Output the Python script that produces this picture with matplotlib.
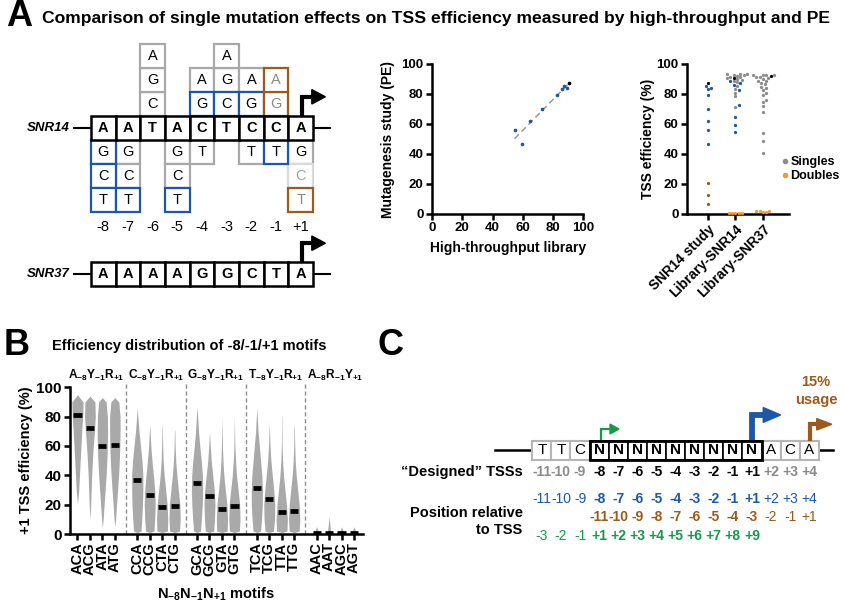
import numpy as np
import matplotlib
matplotlib.use('Agg')
import matplotlib.pyplot as plt
from matplotlib.patches import Rectangle, Polygon
from matplotlib.lines import Line2D

plt.rcParams['font.family'] = ['Liberation Sans', 'DejaVu Sans']
plt.rcParams['font.weight'] = 'bold'
plt.rcParams['axes.labelweight'] = 'bold'
plt.rcParams['mathtext.fontset'] = 'custom'
plt.rcParams['mathtext.rm'] = 'Liberation Sans:bold'
plt.rcParams['mathtext.bf'] = 'Liberation Sans:bold'
plt.rcParams['mathtext.it'] = 'Liberation Sans:bold:italic'

BLUE = '#1d57a8'
BROWN = '#9c5a1c'
ORANGE = '#f39a2b'
GREEN = '#17994a'
GRAY_BOX = '#a8a8a8'
GRAY_TXT = '#8a8a8a'
GRAY_PTS = '#8c8c8c'
VIOLIN = '#a9a9a9'

# ---------------- data: panel A diagram ----------------
snr14_seq = list('AATACTCCA')
snr37_seq = list('AAAAGGCTA')
positions = ['-8', '-7', '-6', '-5', '-4', '-3', '-2', '-1', '+1']
mut_col = [0, 0, 0, 1, 1, 1, 2, 2, 2, 3, 3, 3, 4, 4, 4, 5, 5, 5, 6, 6, 6, 7, 7, 7, 8, 8, 8]
mut_row = [-1, -2, -3, -1, -2, -3, 1, 2, 3, -1, -2, -3, 1, 2, -1, 1, 2, 3, 1, 2, -1, 1, 2, -1, -1, -2, -3]
mut_base = list('GCTGCTCGAGCTGATCGAGATGATGCT')
mut_kind = ['b', 'b', 'b', 'g', 'g', 'b', 'g', 'g', 'g', 'g', 'g', 'b', 'b', 'g', 'g',
            'b', 'g', 'g', 'b', 'g', 'g', 'o', 'o', 'b', 'g', 'l', 'o']

# ---------------- data: panel A scatter / swarm ----------------
lib14_tested = [54.5, 59.5, 64.8, 72.6, 82.8, 86.0, 87.2, 88.8]
pe_tested = [56.0, 46.7, 62.0, 70.0, 79.3, 83.3, 85.3, 84.0]
lib14_wt = 90.7
pe_wt = 87.3
pe_doubles = [21.0, 13.0, 7.0]
lib14_singles = [93.6, 93.4, 93.2, 93.0, 92.4, 92.2, 91.6, 91.2, 90.4, 90.0, 89.2,
                 88.5, 87.8, 85.5, 83.5, 81.0, 78.5, 71.5]
lib14_doubles = [0.6, 0.7, 0.8, 0.9, 1.0]
lib37_singles = [93.0, 92.8, 92.6, 92.4, 91.5, 91.2, 90.5, 90.2, 89.0, 88.5, 87.3, 86.5,
                 85.0, 84.0, 83.0, 81.0, 79.5, 76.0, 74.5, 72.0, 68.0, 54.0, 49.0, 41.0]
lib37_wt = 91.8
lib37_doubles = [1.5, 1.6, 1.7, 1.8, 1.9]
swarm_cats = ['SNR14 study', 'Library-SNR14', 'Library-SNR37']

# ---------------- data: panel B ----------------
motifs = ['ACA', 'ACG', 'ATA', 'ATG', 'CCA', 'CCG', 'CTA', 'CTG', 'GCA', 'GCG',
          'GTA', 'GTG', 'TCA', 'TCG', 'TTA', 'TTG', 'AAC', 'AAT', 'AGC', 'AGT']
group_titles = [r'$\mathrm{A_{-8}Y_{-1}R_{+1}}$', r'$\mathrm{C_{-8}Y_{-1}R_{+1}}$',
                r'$\mathrm{G_{-8}Y_{-1}R_{+1}}$', r'$\mathrm{T_{-8}Y_{-1}R_{+1}}$',
                r'$\mathrm{A_{-8}R_{-1}Y_{+1}}$']
medians = [81, 72, 60, 60.5, 37, 26.5, 18.5, 19, 35, 26, 17, 19, 31.5, 24, 15, 16, 0.8, 0.8, 0.8, 0.8]
lows = [20, 10, 4, 5, 1, 1, 1, 1, 1, 1, 1, 1, 1, 1, 1, 1, 0, 0, 0, 0]
highs = [95, 94, 93, 93, 86, 74, 76, 71, 87, 70, 79, 80, 86, 77, 82, 76, 5, 12, 5, 5]
levels = [2, 10, 20, 30, 40, 50, 60, 70, 80, 90]
half_widths = [
    [0, 0, 0, .10, .16, .22, .28, .34, .42, .45],
    [0, 0, .06, .10, .14, .20, .27, .36, .43, .40],
    [0, .06, .14, .22, .30, .36, .40, .42, .40, .30],
    [0, .06, .14, .22, .30, .36, .40, .42, .42, .32],
    [.30, .36, .42, .45, .45, .38, .26, .14, .05, 0],
    [.34, .40, .44, .40, .30, .18, .09, .03, 0, 0],
    [.42, .45, .40, .28, .16, .08, .04, .02, 0, 0],
    [.40, .45, .42, .30, .18, .09, .04, .02, 0, 0],
    [.28, .35, .42, .45, .43, .34, .22, .12, .05, 0],
    [.34, .40, .44, .38, .26, .14, .06, 0, 0, 0],
    [.42, .45, .40, .27, .15, .08, .04, .02, 0, 0],
    [.40, .45, .42, .30, .17, .09, .04, .02, 0, 0],
    [.30, .38, .44, .45, .40, .30, .20, .10, .04, 0],
    [.34, .42, .44, .36, .24, .13, .06, .02, 0, 0],
    [.42, .45, .38, .26, .14, .07, .03, .02, .01, 0],
    [.40, .45, .40, .28, .16, .08, .04, .02, 0, 0],
    [.12, 0, 0, 0, 0, 0, 0, 0, 0, 0],
    [.12, .02, 0, 0, 0, 0, 0, 0, 0, 0],
    [.12, 0, 0, 0, 0, 0, 0, 0, 0, 0],
    [.12, 0, 0, 0, 0, 0, 0, 0, 0, 0],
]

# ---------------- data: panel C ----------------
c_letters = ['T', 'T', 'C'] + ['N'] * 9 + ['A', 'C', 'A']
c_designed = ['-11', '-10', '-9', '-8', '-7', '-6', '-5', '-4', '-3', '-2', '-1', '+1', '+2', '+3', '+4']
c_brown = ['-11', '-10', '-9', '-8', '-7', '-6', '-5', '-4', '-3', '-2', '-1', '+1']
c_green = ['-3', '-2', '-1', '+1', '+2', '+3', '+4', '+5', '+6', '+7', '+8', '+9']

W, H = 845, 607
fig = plt.figure(figsize=(W / 100, H / 100), dpi=100)


def px_axes(x0, y0, x1, y1):
    return fig.add_axes([x0 / W, 1 - y1 / H, (x1 - x0) / W, (y1 - y0) / H])


def style(ax, size):
    for s in ['top', 'right']:
        ax.spines[s].set_visible(False)
    for s in ['left', 'bottom']:
        ax.spines[s].set_linewidth(1.8)
    ax.tick_params(width=1.8, length=4.5, labelsize=size, pad=1.5)


def swarm_offsets(values, d_px=3.3, ypx=1.5, xpx=27.5):
    vals = np.asarray(values, float)
    step = d_px * 0.5
    cands = [0.0]
    for k in range(1, 40):
        cands += [k * step, -k * step]
    placed = []
    offs = np.zeros(len(vals))
    for idx in np.argsort(vals):
        y = vals[idx] * ypx
        for c in cands:
            if all((c - px) ** 2 + (y - py) ** 2 >= d_px ** 2 for px, py in placed):
                break
        placed.append((c, y))
        offs[idx] = c / xpx
    return offs


# ---------------- figure labels ----------------
fig.text(19 / W, 1 - 17 / H, 'A', fontsize=26, ha='center', va='center')
fig.text(42 / W, 1 - 18 / H,
         'Comparison of single mutation effects on TSS efficiency measured by high-throughput and PE',
         fontsize=12.6, ha='left', va='center')
fig.text(17 / W, 1 - 345 / H, 'B', fontsize=26, ha='center', va='center')
fig.text(52 / W, 1 - 346 / H, 'Efficiency distribution of -8/-1/+1 motifs', fontsize=10.5,
         ha='left', va='center')
fig.text(391 / W, 1 - 345 / H, 'C', fontsize=26, ha='center', va='center')

# ---------------- panel A: sequence diagram ----------------
ax1 = px_axes(0, 35, 340, 300)
ax1.set_xlim(-3.689, 10.093)
ax1.set_ylim(-6.667, 4.375)
ax1.axis('off')
kind_style = {'g': (GRAY_BOX, 'black', 2), 'l': ('#d9d9d9', '#a0a0a0', 2),
              'b': (BLUE, 'black', 3), 'o': (BROWN, GRAY_TXT, 3)}
for c, r, b, k in zip(mut_col, mut_row, mut_base, mut_kind):
    ec, tc, z = kind_style[k]
    ax1.add_patch(Rectangle((c, r), 1, 1, fc='white', ec=ec, lw=1.6, zorder=z))
    ax1.text(c + 0.5, r + 0.5, b, ha='center', va='center', fontsize=10.5,
             fontweight='normal', color=tc, zorder=z + 0.5)
for base_y, seq, name, top in [(0, snr14_seq, 'SNR14', 1.8), (-6.1, snr37_seq, 'SNR37', -4.3)]:
    for i, b in enumerate(seq):
        ax1.add_patch(Rectangle((i, base_y), 1, 1, fc='white', ec='black', lw=1.8, zorder=5))
        ax1.text(i + 0.5, base_y + 0.5, b, ha='center', va='center', fontsize=10.5, zorder=6)
    ax1.plot([-0.7, 0], [base_y + 0.5] * 2, color='black', lw=1.5)
    ax1.plot([9, 9.7], [base_y + 0.5] * 2, color='black', lw=1.5)
    ax1.text(-0.85, base_y + 0.5, name, ha='right', va='center', fontsize=9.5, style='italic')
    ax1.plot([8.54, 8.54, 9.0], [base_y + 1, top, top], color='black', lw=3,
             solid_joinstyle='miter', solid_capstyle='butt', zorder=6)
    ax1.add_patch(Polygon([[8.95, top + 0.3], [8.95, top - 0.3], [9.5, top]], color='black', zorder=6))
for i, p in enumerate(positions):
    ax1.text(i + 0.5, -3.63, p, ha='center', va='center', fontsize=10.5, fontweight='normal')

# ---------------- panel A: scatter ----------------
ax2 = px_axes(432, 64, 583.5, 214)
style(ax2, 9.5)
ax2.set_xlim(0, 100)
ax2.set_ylim(0, 100)
ax2.set_xticks(range(0, 101, 20))
ax2.set_yticks(range(0, 101, 20))
xs = np.array(lib14_tested + [lib14_wt])
ys = np.array(pe_tested + [pe_wt])
fit = np.polyfit(xs, ys, 1)
fx = np.array([xs.min(), xs.max()])
ax2.plot(fx, np.polyval(fit, fx), color='#999999', lw=1.1, ls=(0, (4, 2.5)))
ax2.scatter(lib14_tested, pe_tested, s=7, color=BLUE, zorder=3, lw=0)
ax2.scatter([lib14_wt], [pe_wt], s=7, color='black', zorder=3, lw=0)
ax2.set_ylabel('Mutagenesis study (PE)', fontsize=10)
ax2.set_xlabel('High-throughput library', fontsize=10)
ax2.yaxis.set_label_coords(-0.244, 0.5)
ax2.xaxis.set_label_coords(0.5, -0.18)

# ---------------- panel A: swarm ----------------
ax3 = px_axes(687, 64, 789, 214)
style(ax3, 9.5)
ax3.set_xlim(-0.76, 2.95)
ax3.set_ylim(0, 100)
ax3.set_yticks(range(0, 101, 20))
columns = [
    (pe_tested + [pe_wt] + pe_doubles,
     [BLUE] * len(pe_tested) + ['black'] + [BROWN] * len(pe_doubles)),
    (lib14_singles + lib14_tested + [lib14_wt] + lib14_doubles,
     [GRAY_PTS] * len(lib14_singles) + [BLUE] * len(lib14_tested) + ['black'] + [ORANGE] * len(lib14_doubles)),
    (lib37_singles + [lib37_wt] + lib37_doubles,
     [GRAY_PTS] * len(lib37_singles) + ['black'] + [ORANGE] * len(lib37_doubles)),
]
for ci, (vals, cols) in enumerate(columns):
    offs = swarm_offsets(vals)
    zs = [2 if c == GRAY_PTS else 3 for c in cols]
    for v, o, c, z in zip(vals, offs, cols, zs):
        ax3.scatter(ci + o, v, s=5.5, color=c, lw=0, zorder=z, clip_on=False)
ax3.set_xticks(range(len(swarm_cats)))
ax3.set_xticklabels(swarm_cats, rotation=45, ha='right', rotation_mode='anchor', fontsize=10)
ax3.set_ylabel('TSS efficiency (%)', fontsize=10)
ax3.yaxis.set_label_coords(-0.31, 0.5)
handles = [Line2D([], [], marker='o', ls='', color=GRAY_PTS, markersize=3),
           Line2D([], [], marker='o', ls='', color=ORANGE, markersize=3)]
ax3.legend(handles, ['Singles', 'Doubles'], loc='center left', bbox_to_anchor=(0.93, 0.30),
           frameon=False, handlelength=0.5, handletextpad=0.2, labelspacing=0.15,
           borderpad=0, borderaxespad=0, fontsize=9)

# ---------------- panel B ----------------
ax4 = px_axes(70, 387.3, 362.7, 534)
style(ax4, 11)
ax4.set_xlim(-0.6, 22.9)
ax4.set_ylim(0, 100)
ax4.set_yticks(range(0, 101, 20))
xpos = [g * 4.8 + i for g in range(5) for i in range(4)]
for k in range(len(motifs)):
    yv = [lows[k]]
    wv = [0.0]
    for L, w in zip(levels, half_widths[k]):
        if lows[k] < L < highs[k]:
            yv.append(L)
            wv.append(w)
    yv.append(highs[k])
    wv.append(0.0)
    yv = np.array(yv)
    wv = np.array(wv)
    ax4.fill_betweenx(yv, xpos[k] - wv, xpos[k] + wv, color=VIOLIN, lw=0)
    ax4.hlines(medians[k], xpos[k] - 0.33, xpos[k] + 0.33, color='black', lw=3.4, zorder=4)
for g in range(4):
    ax4.vlines(g * 4.8 + 3.9, 0, 103, color='#8c8c8c', lw=1, ls=(0, (3, 2)), clip_on=False)
for g, t in enumerate(group_titles):
    ax4.text(g * 4.8 + 1.5, 103, t, ha='center', va='bottom', fontsize=8.6)
ax4.set_xticks(xpos)
ax4.set_xticklabels(motifs, rotation=90, fontsize=10.5)
ax4.set_ylabel('+1 TSS efficiency (%)', fontsize=10.5)
ax4.yaxis.set_label_coords(-0.126, 0.5)
ax4.set_xlabel(r'$\mathrm{N_{-8}N_{-1}N_{+1}}$ motifs', fontsize=10.5)
ax4.xaxis.set_label_coords(0.5, -0.35)

# ---------------- panel C ----------------
ax5 = px_axes(440, 360, 845, 550)
ax5.set_xlim(-4.83, 16.37)
ax5.set_ylim(-4.737, 5.263)
ax5.axis('off')
ax5.plot([-1.95, 0], [0.5, 0.5], color='black', lw=1.8)
ax5.plot([15, 15.73], [0.5, 0.5], color='black', lw=1.8)
for i, b in enumerate(c_letters):
    core = 3 <= i <= 11
    ax5.add_patch(Rectangle((i, 0), 1, 1, fc='white', ec='black' if core else '#b5b5b5',
                            lw=1.2 if core else 1.5, zorder=2))
    ax5.text(i + 0.5, 0.5, b, ha='center', va='center', fontsize=11,
             fontweight='bold' if core else 'normal', zorder=3)
ax5.add_patch(Rectangle((3, 0), 9, 1, fill=False, ec='black', lw=2, zorder=4))
# arrows
ax5.plot([3.58, 3.58, 4.1], [1, 1.63, 1.63], color=GREEN, lw=1.6, solid_joinstyle='miter')
ax5.add_patch(Polygon([[4.07, 1.89], [4.07, 1.37], [4.54, 1.63]], color=GREEN))
ax5.plot([11.5, 11.5, 12.12], [1, 2.37, 2.37], color=BLUE, lw=4.2, solid_joinstyle='miter',
         solid_capstyle='butt')
ax5.add_patch(Polygon([[12.09, 2.76], [12.09, 1.98], [13.0, 2.37]], color=BLUE))
ax5.plot([14.52, 14.52, 14.92], [1, 1.88, 1.88], color=BROWN, lw=3, solid_joinstyle='miter',
         solid_capstyle='butt')
ax5.add_patch(Polygon([[14.89, 2.18], [14.89, 1.58], [15.68, 1.88]], color=BROWN))
ax5.text(14.85, 4.1, '15%', color=BROWN, ha='center', va='center', fontsize=10.5)
ax5.text(14.85, 3.16, 'usage', color=BROWN, ha='center', va='center', fontsize=10.5)
# position rows
ax5.text(-0.5, -0.65, '\u201cDesigned\u201d TSSs', ha='right', va='center', fontsize=10.5)
ax5.text(-0.5, -2.77, 'Position relative', ha='right', va='center', fontsize=10.5)
ax5.text(-0.5, -3.68, 'to TSS', ha='right', va='center', fontsize=10.5)
for i, lab in enumerate(c_designed):
    core = 3 <= i <= 11
    ax5.text(i + 0.5, -0.65, lab, ha='center', va='center', fontsize=10,
             color='black' if core else GRAY_TXT)
    ax5.text(i + 0.5, -2.07, lab, ha='center', va='center', fontsize=10, color=BLUE,
             fontweight='bold' if core else 'normal')
for j, lab in enumerate(c_brown):
    i = j + 3
    ax5.text(i + 0.5, -3.02, lab, ha='center', va='center', fontsize=10, color=BROWN,
             fontweight='bold' if i <= 11 else 'normal')
for i, lab in enumerate(c_green):
    ax5.text(i + 0.5, -4.0, lab, ha='center', va='center', fontsize=10, color=GREEN,
             fontweight='bold' if i >= 3 else 'normal')

fig.savefig('out.png', dpi=100)
